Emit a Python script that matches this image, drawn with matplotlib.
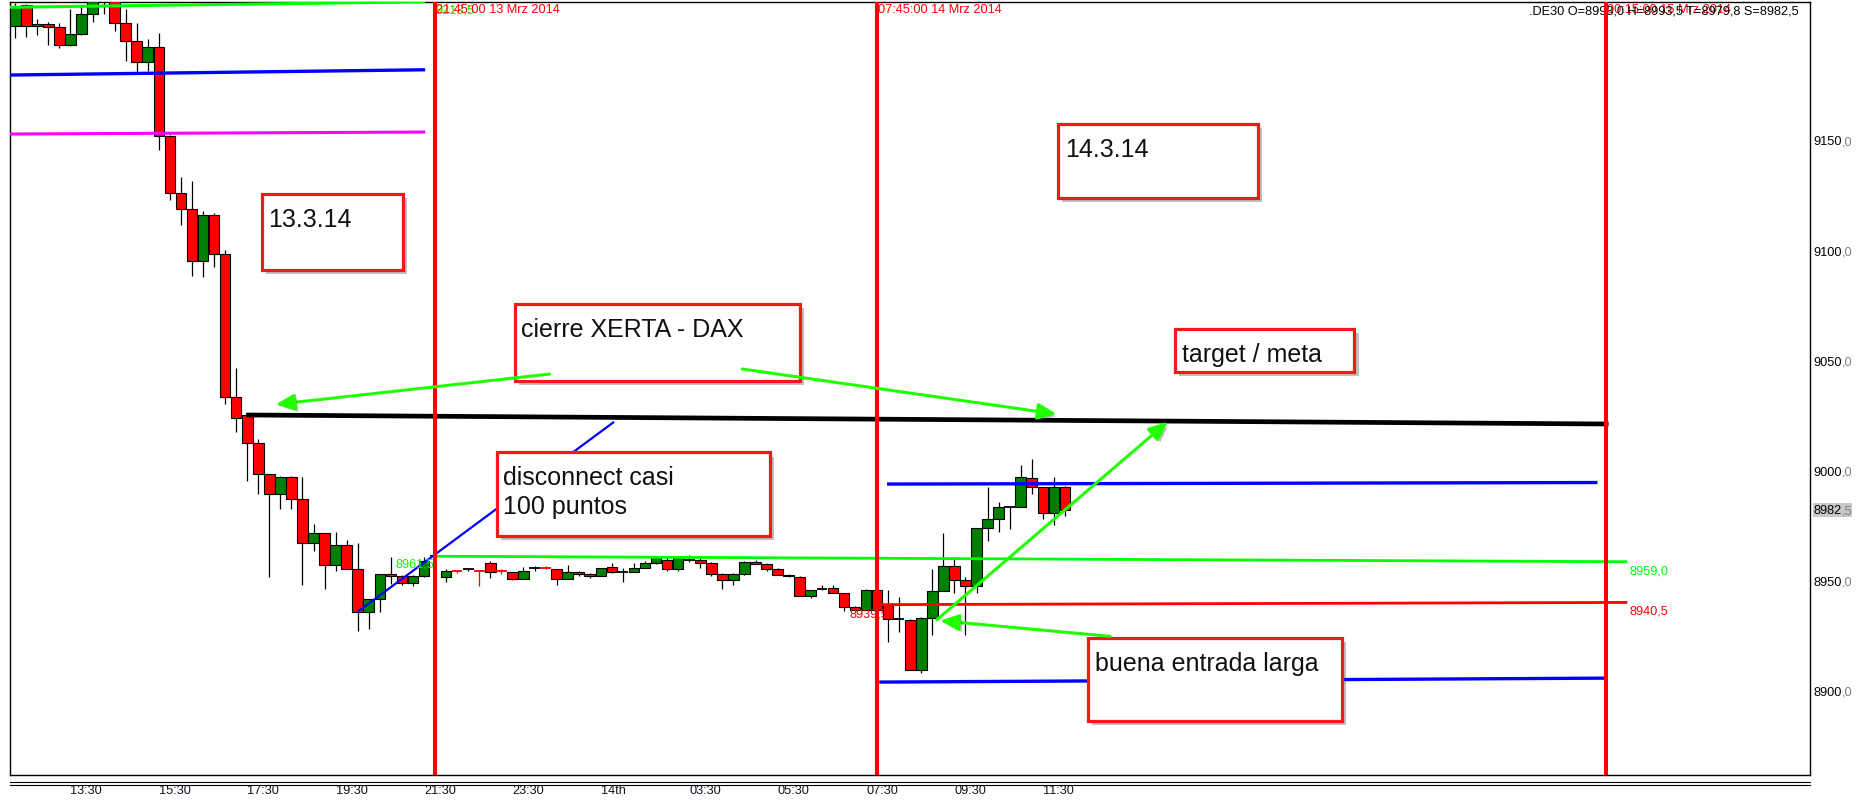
import matplotlib
matplotlib.use('Agg')
import matplotlib.pyplot as plt
import matplotlib.patheffects as pe
from matplotlib import font_manager
from matplotlib.patches import Rectangle, FancyArrowPatch
from matplotlib.lines import Line2D

# .DE30, 15 min candles, index 0 = 13 Mrz 2014 12:15
opens = [9202.5, 9212, 9202.5, 9203.5, 9202, 9194, 9199, 9208, 9214, 9218,
         9204, 9195.5, 9186, 9193, 9152.5, 9126.5, 9119.5, 9095.5, 9116.5, 9099,
         9034, 9025.5, 9013, 8999, 8990, 8997.5, 8987.5, 8967.5, 8972, 8957.5,
         8966.5, 8955.5, 8936, 8942, 8953.5, 8952.5, 8949.5, 8952.5, 8961.5, 8952,
         8954.6, 8955.5, 8954.6, 8958.5, 8954.6, 8954.5, 8951, 8956, 8956.1, 8955.5,
         8951, 8954.5, 8953.5, 8952.5, 8956.5, 8954.5, 8954.5, 8956, 8958.5, 8960,
         8955.5, 8960, 8960, 8958.5, 8953.5, 8950.5, 8953.5, 8959, 8958, 8955.5,
         8953, 8952, 8943.5, 8946.5, 8947, 8945, 8938.5, 8937, 8946, 8940,
         8933, 8932.5, 8910, 8933.5, 8945.5, 8957, 8950.5, 8948, 8974.5, 8978.5,
         8984, 8984, 8997, 8993, 8981, 8993]
highs = [9213, 9212.5, 9205.5, 9204.5, 9204, 9210, 9211, 9217, 9220, 9219,
         9210, 9204, 9196.5, 9199.5, 9153, 9134, 9132, 9118.5, 9117.5, 9100.5,
         9047, 9026, 9015, 8999, 8998, 8998, 8997.5, 8976, 8972, 8972.5,
         8969, 8967.5, 8942, 8953.5, 8961, 8953, 8953, 8961, 8962, 8955.5,
         8955, 8956, 8955, 8959.5, 8955.5, 8954.5, 8956.5, 8957, 8957, 8955.5,
         8957.5, 8955, 8954, 8956, 8958.5, 8956, 8958.5, 8959.5, 8961.5, 8961,
         8961.5, 8962, 8960.5, 8959, 8954, 8954, 8959.5, 8960, 8958.5, 8956,
         8953.5, 8952.5, 8946, 8948.5, 8948.5, 8945, 8939, 8946.5, 8946.5, 8946,
         8943, 8933, 8934, 8955.5, 8972, 8961, 8952, 8974.5, 8993, 8986,
         8984.5, 9003, 9005.5, 8993, 8997.5, 8993.5]
lows = [9197, 9197.5, 9198.5, 9194, 9192.5, 9193.5, 9198.5, 9204.5, 9208, 9200,
        9186.5, 9181.5, 9182, 9146, 9123.5, 9112, 9089, 9088.5, 9093, 9030.5,
        9018, 8995.5, 8990, 8952, 8983, 8983, 8948.5, 8964, 8946.5, 8955,
        8955.5, 8927.5, 8928.5, 8936, 8949, 8948.5, 8948, 8952, 8960, 8950,
        8954, 8955, 8948, 8951.5, 8953.5, 8950.5, 8951, 8955, 8955.5, 8948.5,
        8951, 8952.5, 8951.5, 8952.5, 8954, 8950, 8954.5, 8956, 8958, 8955,
        8955, 8959, 8956, 8952.5, 8946.5, 8948.5, 8953, 8958, 8955, 8953,
        8952, 8943.5, 8942.5, 8946, 8945, 8936.5, 8937, 8937, 8937, 8922.5,
        8927, 8910, 8908.5, 8925.5, 8945.5, 8945, 8925.5, 8945, 8968.5, 8972.5,
        8974, 8984, 8990, 8978.5, 8975.5, 8979.8]
closes = [9211, 9202.5, 9203.5, 9202, 9194, 9199, 9208, 9214, 9218, 9204,
          9195.5, 9186, 9193, 9152.5, 9126.5, 9119.5, 9095.5, 9116.5, 9099, 9034,
          9024.5, 9013, 8999, 8990, 8997.5, 8987.5, 8967.5, 8972, 8957.5, 8966.5,
          8955.5, 8936, 8942, 8953.5, 8952.5, 8949.5, 8952.5, 8959.5, 8961.5, 8955,
          8954.5, 8955.5, 8954.5, 8954.5, 8954.5, 8951, 8955, 8956, 8956, 8951,
          8954.5, 8953.5, 8952.5, 8956, 8954.5, 8954.5, 8956, 8958.5, 8961, 8955.5,
          8961, 8960, 8958.5, 8953.5, 8950.5, 8953.5, 8959, 8958, 8955.5, 8953,
          8952.5, 8943.5, 8946, 8946.5, 8945, 8938.5, 8937, 8946, 8937, 8933,
          8933, 8910, 8933.5, 8945.5, 8957, 8950.5, 8948, 8974.5, 8978.5, 8984,
          8984, 8997.5, 8993, 8981, 8993, 8982.5]

time_ticks = [5, 13, 21, 29, 37, 45, 53, 61, 69, 77, 85, 93]
time_labels = ['13:30', '15:30', '17:30', '19:30', '21:30', '23:30', '14th',
               '03:30', '05:30', '07:30', '09:30', '11:30']
price_ticks = [9150, 9100, 9050, 9000, 8950, 8900]
last_price = 8982.5
header = '.DE30 O=8993,0 H=8993,5 T=8979,8 S=8982,5'

session_idx = [38, 78, 144]
session_labels = ['21:45:00 13 Mrz 2014', '07:45:00 14 Mrz 2014', '00:15:00 15 Mrz 2014']

# drawn lines: start / end (candle index, price)
line_x0 = [-0.6, -0.6, -0.6, 20.9, 38.0, 78.2, 78.9, 78.2, 31.0]
line_y0 = [9211.0, 9180.2, 9153.4, 9025.7, 8961.5, 8939.5, 8994.3, 8904.3, 8936.3]
line_x1 = [37.1, 37.1, 37.1, 144.2, 145.9, 145.9, 143.2, 144.0, 54.2]
line_y1 = [9213.5, 9182.6, 9154.3, 9021.6, 8959.0, 8940.5, 8995.0, 8906.1, 9022.6]
line_colors = ['#00ff00', '#0000ff', '#ff00ff', 'black', '#00ff00', '#ff0000',
               '#0000ff', '#0000ff', '#0000ff']
line_widths = [2.2, 2.4, 2.2, 3.4, 2.0, 2.0, 2.4, 2.4, 1.6]

# price tags next to the lines
tag_text = ['9213,5', '8961,5', '8939,5', '8959,0', '8940,5']
tag_x = [38.05, 34.46, 75.46, 146.1, 146.1]
tag_y = [9209.8, 8958.0, 8935.7, 8955.2, 8936.7]
tag_colors = ['#00ff00', '#00ff00', '#ff0000', '#00ff00', '#ff0000']

# text boxes
note_text = ['13.3.14', 'cierre XERTA - DAX', 'disconnect casi\n100 puntos',
             '14.3.14', 'target / meta', 'buena entrada larga']
note_x0 = [22.3, 45.2, 43.6, 94.4, 104.96, 97.1]
note_x1 = [35.1, 71.0, 68.3, 112.5, 121.2, 120.1]
note_y0 = [9091.7, 9041.3, 8970.8, 9124.3, 9045.2, 8886.7]
note_y1 = [9126.1, 9076.1, 9008.7, 9158.0, 9064.8, 8924.3]

# green arrows: tail -> head
arrow_x0 = [48.36, 65.8, 83.4, 99.1]
arrow_y0 = [9044.3, 9046.6, 8932.6, 8925.1]
arrow_x1 = [23.57, 94.25, 104.3, 83.7]
arrow_y1 = [9030.5, 9026.1, 9022.6, 8932.2]

names = {f.name for f in font_manager.fontManager.ttflist}
if 'Liberation Sans Narrow' in names:
    small_font, small_size = 'Liberation Sans Narrow', 11
else:
    small_font, small_size = 'Liberation Sans', 9.2
plt.rcParams['font.family'] = ['Liberation Sans', 'DejaVu Sans']

W, H = 1857, 803
fig = plt.figure(figsize=(W / 100, H / 100), dpi=100)
fig.patch.set_facecolor('white')
ax = fig.add_axes([9.5 / W, 1 - 775.5 / H, 1800.5 / W, 772.5 / H])
ax.set_xlim(-0.516, 162.43)
ax.set_ylim(8862.3, 9213.4)

# candles
for i in range(len(opens)):
    o, h, l, c = opens[i], highs[i], lows[i], closes[i]
    flat = abs(o - c) < 0.3
    wick_col = '#ff0000' if (flat and o > c) else 'black'
    ax.vlines(i, l, h, color=wick_col, lw=0.9, zorder=2)
    if flat:
        ax.hlines(o, i - 0.48, i + 0.48, color=wick_col, lw=1.3, zorder=3)
    else:
        ax.bar(i, abs(c - o), bottom=min(o, c), width=0.96,
               color='#ff0000' if o > c else '#008000',
               edgecolor='black', linewidth=0.8, zorder=3)

for k in range(len(line_x0)):
    ax.plot([line_x0[k], line_x1[k]], [line_y0[k], line_y1[k]], color=line_colors[k],
            lw=line_widths[k], solid_capstyle='butt', zorder=4)

for k in range(len(tag_text)):
    ax.text(tag_x[k], tag_y[k], tag_text[k], color=tag_colors[k], family=small_font,
            fontsize=small_size, ha='left', va='center', zorder=5)

for x, lab in zip(session_idx, session_labels):
    ax.axvline(x, color='#ff0000', lw=2.9, zorder=6)
    ax.text(x + 0.05, 0.991, lab, transform=ax.get_xaxis_transform(), color='#ff0000',
            family=small_font, fontsize=small_size, ha='left', va='center', zorder=5)

ax.text(0.99389, 0.98874, header, transform=ax.transAxes, ha='right', va='center',
        family=small_font, fontsize=small_size, color='black', zorder=5)

# red-framed note boxes with a soft shadow
for k in range(len(note_text)):
    w = note_x1[k] - note_x0[k]
    h = note_y1[k] - note_y0[k]
    ax.add_patch(Rectangle((note_x0[k], note_y0[k]), w, h, facecolor='white',
                           edgecolor='#f01a1a', lw=2.3, zorder=7,
                           path_effects=[pe.SimplePatchShadow(offset=(3, -3),
                                                              shadow_rgbFace=(0.3, 0.3, 0.3),
                                                              alpha=0.35),
                                         pe.Normal()]))
    ax.annotate(note_text[k], xy=(note_x0[k], note_y1[k]), xytext=(4.7, -9.4),
                textcoords='offset points', fontsize=18, ha='left', va='top',
                color='#111111', linespacing=1.23, zorder=8)

arrow_fx = [pe.SimplePatchShadow(offset=(2, -2), shadow_rgbFace=(0.2, 0.2, 0.2), alpha=0.3),
            pe.Normal()]
for k in range(len(arrow_x0)):
    arr = FancyArrowPatch((arrow_x0[k], arrow_y0[k]), (arrow_x1[k], arrow_y1[k]),
                          arrowstyle='-|>,head_length=0.8,head_width=0.35', mutation_scale=14,
                          color='#22ff00', lw=2.2, shrinkA=0, shrinkB=0, zorder=9,
                          path_effects=arrow_fx)
    ax.add_patch(arr)

# price scale on the right
split = (1841.5 - 9.5) / 1800.5
ytr = ax.get_yaxis_transform()
for p in price_ticks:
    ax.text(split, p, str(p), transform=ytr, ha='right', va='center', family=small_font,
            fontsize=small_size, color='black', clip_on=False)
    ax.text(split, p, ',0', transform=ytr, ha='left', va='center', family=small_font,
            fontsize=small_size, color='#808080', clip_on=False)
ax.add_patch(Rectangle((1.00139, last_price - 3.2), 0.0219, 6.4, transform=ytr,
                       facecolor='#c8c8c8', edgecolor='none', clip_on=False, zorder=1))
ax.text(split, last_price, str(int(last_price)), transform=ytr, ha='right', va='center',
        family=small_font, fontsize=small_size, color='black', clip_on=False)
ax.text(split, last_price, ',5', transform=ytr, ha='left', va='center', family=small_font,
        fontsize=small_size, color='#808080', clip_on=False)

ax.set_yticks([])
ax.set_xticks(time_ticks)
ax.set_xticklabels(time_labels, ha='left', family=small_font, fontsize=small_size)
ax.tick_params(axis='x', length=0, pad=7, colors='#111122')
for s in ax.spines.values():
    s.set_linewidth(1.0)

for yy in [783, 786]:
    fig.add_artist(Line2D([9.5 / W, 1810 / W], [1 - yy / H, 1 - yy / H], color='black', lw=0.8))

fig.savefig('out.png', dpi=100)
